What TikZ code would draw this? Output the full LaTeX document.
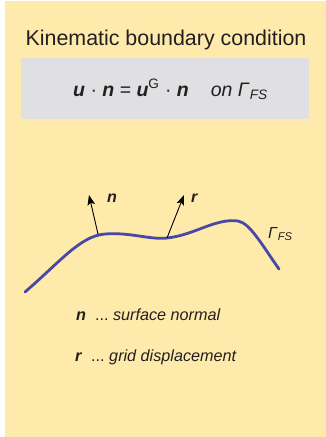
\documentclass[tikz,border=0pt]{standalone}
\usepackage{fontspec}
\setmainfont{Liberation Sans}
\usetikzlibrary{arrows.meta}
\definecolor{panelyellow}{RGB}{254,234,171}
\definecolor{boxgrey}{RGB}{224,224,226}
\definecolor{curveblue}{RGB}{72,72,165}
\definecolor{textgrey}{RGB}{35,31,32}
\newcommand{\vecb}[1]{\textbf{\textit{#1}}}
\begin{document}
\begin{tikzpicture}[x=1pt,y=-1pt,
    lbl/.style={inner sep=0pt,anchor=base west,text=textgrey},
    vecarrow/.style={-{Stealth[length=10pt,width=7.5pt,inset=2pt]},line width=0.9pt,black}]
  \useasboundingbox (0,0) rectangle (326,437);
  \fill[panelyellow] (5,1) rectangle (326,437);
  \fill[boxgrey] (21,58) rectangle (309,119);
  \node[inner sep=0pt,anchor=base,text=textgrey,font=\fontsize{21.4}{25}\selectfont]
    (title) at (166,45.5) {Kinematic boundary condition};
  \node[lbl,font=\fontsize{19.5}{23}\selectfont] (eq) at (73,96)
    {\vecb{u} · \vecb{n} = \vecb{u}\textsuperscript{G} · \vecb{n}\hspace{22pt}\textit{on} \textit{Γ}\textsubscript{\textit{FS}}};
  % free surface
  \draw[curveblue,line width=2.8pt,line cap=round]
    (25,292) .. controls (60,262) and (80,236) .. (105,234)
    .. controls (130,232) and (150,240) .. (167,238)
    .. controls (195,235) and (215,218) .. (238,221)
    .. controls (250,223) and (262,245) .. (279,269);
  \coordinate (nfoot) at (98,234);
  \coordinate (nhead) at (89,195);
  \coordinate (rfoot) at (167,238);
  \coordinate (rhead) at (184,195);
  \draw[vecarrow] (nfoot) -- (nhead);
  \draw[vecarrow] (rfoot) -- (rhead);
  \node[lbl,font=\fontsize{16}{19}\selectfont] (nlbl) at (107,202) {\vecb{n}};
  \node[lbl,font=\fontsize{16}{19}\selectfont] (rlbl) at (191,202) {\vecb{r}};
  \node[lbl,font=\fontsize{16}{19}\selectfont] (gamma) at (268,238) {\textit{Γ}\textsubscript{\textit{FS}}};
  % legend
  \node[lbl,font=\fontsize{16.2}{19}\selectfont] (leg1) at (76,320) {\vecb{n}\ \ ...\ \textit{surface normal}};
  \node[lbl,font=\fontsize{16.2}{19}\selectfont] (leg2) at (75,361.5) {\vecb{r}\ \ ...\ \textit{grid displacement}};
\end{tikzpicture}
\end{document}
